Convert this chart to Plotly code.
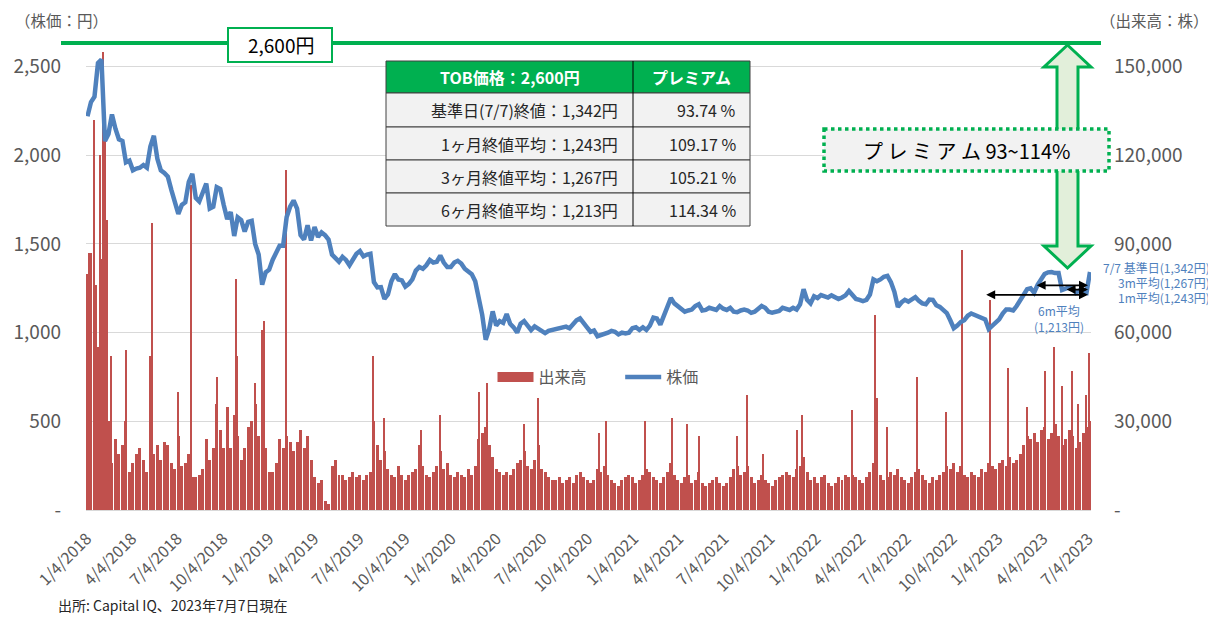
import pandas as pd
import plotly.graph_objects as go

# ---------------- data ----------------
# weekly closes (Fridays) from 2018-01-05 to 2023-07-07
price = [
    2220, 2300, 2330, 2520, 2540, 2080, 2120, 2230, 2150, 2090, 2080, 1960, 1970, 1915, 1925, 1930,
    1945, 1930, 2050, 2110, 1980, 1915, 1900, 1880, 1805, 1730, 1670, 1720, 1735, 1850, 1895, 1760,
    1740, 1790, 1840, 1700, 1710, 1820, 1810, 1720, 1640, 1680, 1545, 1650, 1635, 1570, 1625, 1630,
    1500, 1440, 1270, 1340, 1355, 1410, 1450, 1490, 1490, 1650, 1710, 1745, 1700, 1550, 1525, 1605,
    1520, 1595, 1540, 1565, 1550, 1525, 1440, 1420, 1400,
    1427, 1410, 1380, 1415, 1445, 1460, 1430, 1440, 1445, 1285, 1255, 1257, 1190, 1215, 1290, 1330,
    1300, 1295, 1260, 1275, 1300, 1350, 1370, 1360, 1380, 1410, 1395, 1400, 1435, 1395, 1370, 1370,
    1395, 1405, 1390, 1360, 1345, 1330, 1290, 1190, 1100, 960, 1020, 1120, 1040, 1065, 1055, 1105,
    1050, 1030, 1000, 1050, 1065, 1040, 1015, 1035, 1020, 1005, 997, 1010, 1015, 1015, 1022, 1030,
    1034, 1025, 1050, 1070, 1080, 1050, 1030, 1005, 1012,
    980, 985, 995, 1000, 1010, 1005, 990, 1000, 995, 1000, 1025, 1030, 1015, 1030, 1015, 1040,
    1085, 1080, 1045, 1100, 1145, 1195, 1165, 1150, 1130, 1118, 1125, 1130, 1150, 1160, 1125, 1128,
    1140, 1135, 1128, 1150, 1135, 1128, 1140, 1118, 1115, 1125, 1130, 1125, 1112, 1118, 1138, 1150,
    1140, 1118, 1112, 1115, 1122, 1140, 1135, 1128, 1140, 1130, 1160, 1245, 1185, 1165, 1205, 1195,
    1212, 1205, 1198, 1210, 1200, 1190, 1198, 1210, 1235,
    1215, 1190, 1185, 1178, 1185, 1215, 1300, 1290, 1300, 1315, 1320, 1285, 1230, 1145, 1170, 1185,
    1175, 1190, 1200, 1180, 1165, 1160, 1186, 1185, 1155, 1145, 1125, 1110, 1070, 1025, 1040, 1060,
    1070, 1095, 1108, 1100, 1092, 1080, 1075, 1020, 1040, 1055, 1075, 1108, 1130, 1130, 1125, 1150,
    1180, 1215, 1245, 1250, 1225, 1270, 1305, 1330, 1340, 1342, 1336, 1336, 1240, 1245, 1255, 1250,
    1225, 1238, 1230, 1225, 1342,
]

# typical daily volume level in each week (thousand shares)
volume_k = [
    45, 40, 50, 55, 70, 60, 30, 16, 24, 19, 22, 30, 13, 16, 19, 21, 17, 13, 30, 19, 22, 17, 23, 22,
    16, 14, 25, 15, 16, 19, 11, 11, 12, 14, 24, 17, 21, 36, 27, 21, 35, 21, 32, 25, 17, 21, 28, 30,
    36, 25, 34, 21, 13, 13, 16, 24, 21, 25, 23, 20, 23, 27, 21, 25, 17, 11, 9, 10, 3, 2, 15, 17, 12,
    12, 10, 11, 13, 11, 12, 10, 12, 13, 30, 22, 17, 20, 14, 12, 11, 15, 12, 10, 12, 13, 14, 22, 15,
    12, 11, 13, 15, 20, 14, 16, 12, 11, 13, 12, 11, 14, 12, 15, 24, 26, 28, 22, 18, 14, 13, 12, 13,
    12, 14, 16, 17, 20, 15, 14, 17, 22, 14, 13, 11, 10, 10, 11, 9, 10, 11, 9, 12, 13, 11, 10, 9, 10,
    14, 13, 15, 12, 10, 9, 8, 10, 11, 12, 11, 9, 10, 12, 14, 13, 11, 10, 9, 11, 13, 16, 12, 10,
    9, 11, 12, 9, 10, 13, 9, 8, 9, 10, 11, 9, 8, 9, 11, 14, 15, 12, 13, 15, 11, 9, 10, 12,
    10, 9, 8, 10, 11, 12, 13, 12, 11, 14, 15, 18, 13, 10, 11, 9, 11, 12, 9, 8, 9, 11, 10, 12, 11,
    12, 11, 10, 9, 11, 13, 16, 15, 12, 10, 11, 13, 12, 14, 11, 10, 9, 11, 13, 14, 12, 10, 9, 11,
    10, 12, 13, 15, 14, 16, 13, 15, 12, 11, 13, 12, 11, 14, 13, 16, 15, 14, 16, 17, 15, 18, 16, 17,
    19, 22, 25, 24, 26, 23, 27, 28, 24, 26, 29, 25, 22, 24, 27, 25, 21, 23, 26, 28, 30,
]

# single-day volume spikes (thousand shares)
spike_dates = [
    "2018-01-04", "2018-01-09", "2018-01-12", "2018-01-18", "2018-01-23", "2018-01-30", "2018-02-02",
    "2018-02-06", "2018-02-09", "2018-02-14", "2018-02-22", "2018-03-23", "2018-05-11", "2018-05-15",
    "2018-07-06", "2018-08-01", "2018-09-21", "2018-10-30", "2018-11-01", "2018-12-07", "2018-12-20",
    "2018-12-25", "2019-02-06", "2019-08-01", "2019-08-22", "2019-11-04", "2019-12-13", "2020-02-28",
    "2020-03-16", "2020-05-28", "2020-06-25", "2020-10-26", "2020-11-09", "2021-01-27", "2021-03-22",
    "2021-04-20", "2021-05-14", "2021-07-29", "2021-08-19", "2021-09-20", "2021-11-26", "2021-12-07",
    "2022-03-18", "2022-05-02", "2022-05-06", "2022-05-27", "2022-07-26", "2022-09-22", "2022-10-24",
    "2022-12-19", "2023-01-23", "2023-03-03", "2023-04-07", "2023-04-25", "2023-05-11", "2023-05-31",
    "2023-06-13", "2023-06-28", "2023-07-05",
]
spike_k = [
    80, 87, 87, 132, 76, 120, 85, 155, 126, 98, 52, 54, 52, 97, 40, 110, 45, 78, 52, 43, 61, 64, 115,
    52, 31, 27, 32, 40, 43, 29, 38, 26, 30, 30, 31, 29, 25, 25, 39, 19, 27, 32, 34, 66, 38, 28, 45,
    33, 88, 71, 48, 35, 47, 55, 42, 47, 36, 39, 53,
]

x_tick_vals = [
    "2018-01-04", "2018-04-04", "2018-07-04", "2018-10-04", "2019-01-04", "2019-04-04", "2019-07-04",
    "2019-10-04", "2020-01-04", "2020-04-04", "2020-07-04", "2020-10-04", "2021-01-04", "2021-04-04",
    "2021-07-04", "2021-10-04", "2022-01-04", "2022-04-04", "2022-07-04", "2022-10-04", "2023-01-04",
    "2023-04-04", "2023-07-04",
]
x_tick_text = [
    "1/4/2018", "4/4/2018", "7/4/2018", "10/4/2018", "1/4/2019", "4/4/2019", "7/4/2019", "10/4/2019",
    "1/4/2020", "4/4/2020", "7/4/2020", "10/4/2020", "1/4/2021", "4/4/2021", "7/4/2021", "10/4/2021",
    "1/4/2022", "4/4/2022", "7/4/2022", "10/4/2022", "1/4/2023", "4/4/2023", "7/4/2023",
]
price_ticks = [0, 500, 1000, 1500, 2000, 2500]
price_tick_text = ["-", "500", "1,000", "1,500", "2,000", "2,500"]
vol_ticks = [0, 30000, 60000, 90000, 120000, 150000]
vol_tick_text = ["-", "30,000", "60,000", "90,000", "120,000", "150,000"]

tob_price = 2600
table_rows = [
    ("基準日(7/7)終値：1,342円", "93.74 %"),
    ("1ヶ月終値平均：1,243円", "109.17 %"),
    ("3ヶ月終値平均：1,267円", "105.21 %"),
    ("6ヶ月終値平均：1,213円", "114.34 %"),
]
avg_6m, avg_3m, avg_1m, base_close = 1213, 1267, 1243, 1342

week_dates = pd.date_range("2018-01-05", periods=len(price), freq="7D")

# ---------------- layout helpers (screen pixels) ----------------
W, H = 1216, 618
OFF = 8                      # page body margin of the html page
L, R, T, B = 86, 1091, 40, 510   # plot area on screen
FONT = "Noto Sans CJK JP"
GRAY = "#595959"
GREEN = "#00B050"
RED = "#C0504D"
BLUE = "#4F81BD"


def px(x):
    return (x - L) / (R - L)


def py(y):
    return (B - y) / (B - T)


def label(x, y, text, size, color, xanchor="center", bold=False):
    return dict(xref="paper", yref="paper", x=px(x), y=py(y), xanchor=xanchor, yanchor="middle",
                text=f"<b>{text}</b>" if bold else text, showarrow=False, borderpad=0,
                font=dict(size=size, color=color, family=FONT))


fig = go.Figure()
fig.add_trace(go.Bar(
    x=week_dates, y=[v * 1000 for v in volume_k], name="出来高", marker_color=RED,
    marker_line_width=0, width=6 * 86400000, yaxis="y", showlegend=False,
))
fig.add_trace(go.Bar(
    x=pd.to_datetime(spike_dates), y=[v * 1000 for v in spike_k], name="出来高", marker_color=RED,
    marker_line_width=0, width=2 * 86400000, yaxis="y", showlegend=False,
))
# legend key for the volume bars (wide red swatch as in the original)
fig.add_trace(go.Scatter(
    x=[None], y=[None], name="出来高" + "&nbsp;" * 8, mode="lines",
    line=dict(color=RED, width=10), yaxis="y",
))
fig.add_trace(go.Scatter(
    x=week_dates, y=price, name="株価", mode="lines",
    line=dict(color=BLUE, width=4.5), yaxis="y2",
))

shapes = []
annotations = []

# TOB price line and label box
shapes.append(dict(type="line", xref="paper", yref="paper", x0=px(61), x1=px(1101),
                   y0=py(43), y1=py(43), line=dict(color=GREEN, width=4)))
shapes.append(dict(type="rect", xref="paper", yref="paper", x0=px(228), x1=px(332),
                   y0=py(28), y1=py(62), fillcolor="white", line=dict(color=GREEN, width=2)))
annotations.append(label(281, 45, "2,600円", 19, "black"))

# table
tx0, tx1, tdiv = 386, 750, 633
row_edges = [61, 93, 127, 160, 193, 226]
shapes.append(dict(type="rect", xref="paper", yref="paper", x0=px(tx0), x1=px(tx1),
                   y0=py(row_edges[0]), y1=py(row_edges[1]), fillcolor=GREEN,
                   line=dict(color="#404040", width=1)))
for k in range(1, 5):
    shapes.append(dict(type="rect", xref="paper", yref="paper", x0=px(tx0), x1=px(tx1),
                       y0=py(row_edges[k]), y1=py(row_edges[k + 1]), fillcolor="#F2F2F2",
                       line=dict(color="#404040", width=1)))
shapes.append(dict(type="line", xref="paper", yref="paper", x0=px(tdiv), x1=px(tdiv),
                   y0=py(row_edges[0]), y1=py(row_edges[-1]), line=dict(color="black", width=1)))
annotations.append(label((tx0 + tdiv) / 2, 77, "TOB価格：2,600円", 16, "white", bold=True))
annotations.append(label((tdiv + tx1) / 2, 77, "プレミアム", 16, "white", bold=True))
for k, (txt, prem) in enumerate(table_rows):
    yc = (row_edges[k + 1] + row_edges[k + 2]) / 2
    annotations.append(label(619, yc, txt, 16, "#262626", xanchor="right"))
    annotations.append(label(737, yc, prem, 16, "#262626", xanchor="right"))

# green double arrow
pts = [(1067.5, 45), (1091, 67), (1078, 67), (1078, 246), (1091, 246), (1067.5, 268),
       (1044, 246), (1057, 246), (1057, 67), (1044, 67)]
path = "M " + " L ".join(f"{px(a):.5f},{py(b):.5f}" for a, b in pts) + " Z"
shapes.append(dict(type="path", xref="paper", yref="paper", path=path, fillcolor="#E2EFDA",
                   line=dict(color=GREEN, width=3)))

# premium box
shapes.append(dict(type="rect", xref="paper", yref="paper", x0=px(824), x1=px(1109),
                   y0=py(129), y1=py(171), fillcolor="#F2F2F2",
                   line=dict(color=GREEN, width=3.5, dash="dot")))
annotations.append(label(966, 151, "プ レ ミ ア ム 93~114%", 20, "black"))

# average arrows
for start, val in (("2022-12-08", avg_6m), ("2023-03-19", avg_3m), ("2023-05-18", avg_1m)):
    annotations.append(dict(x="2023-07-03", y=val, ax=start, ay=val, xref="x", yref="y2",
                            axref="x", ayref="y2", text="", showarrow=True, arrowhead=2,
                            startarrowhead=2, arrowside="end+start", arrowsize=1,
                            startarrowsize=1, arrowwidth=1.8, arrowcolor="black"))

# blue labels
for yy, txt in ((267, "7/7 基準日(1,342円)"), (282, "3m平均(1,267円)"), (297, "1m平均(1,243円)")):
    annotations.append(label(1211, yy, txt, 12, BLUE, xanchor="right"))
annotations.append(label(1059, 310, "6m平均", 12, BLUE))
annotations.append(label(1059, 326, "(1,213円)", 12, BLUE))

# axis titles & source
annotations.append(label(14, 20, "（株価：円）", 15.5, GRAY, xanchor="left"))
annotations.append(label(1210, 20, "（出来高：株）", 15.5, GRAY, xanchor="right"))
annotations.append(label(57, 605, "出所: Capital IQ、2023年7月7日現在", 14, "#262626", xanchor="left"))

fig.update_layout(
    width=W, height=H,
    margin=dict(l=L - OFF, r=W - (R - OFF), t=T - OFF, b=H - (B - OFF), autoexpand=False),
    paper_bgcolor="white", plot_bgcolor="white",
    font=dict(family=FONT, color=GRAY),
    barmode="overlay", bargap=0,
    showlegend=True,
    legend=dict(orientation="h", x=px(598), y=py(377), xanchor="center", yanchor="middle",
                font=dict(size=16, color=GRAY), bgcolor="rgba(0,0,0,0)", itemwidth=36,
                tracegroupgap=0),
    xaxis=dict(type="date", range=["2018-01-02", "2023-07-09"], tickvals=x_tick_vals,
               ticktext=x_tick_text, tickangle=-45, tickfont=dict(size=16, color=GRAY),
               showgrid=False, showline=True, linecolor="#D9D9D9", ticks="",
               ticklabelstandoff=12),
    yaxis=dict(side="right", range=[0, 159000], tickvals=vol_ticks, ticktext=vol_tick_text,
               tickfont=dict(size=19, color=GRAY), showgrid=True, gridcolor="#D9D9D9",
               zeroline=False, ticks="", ticklabelstandoff=22),
    yaxis2=dict(side="left", overlaying="y", range=[0, 2650], tickvals=price_ticks,
                ticktext=price_tick_text, tickfont=dict(size=19, color=GRAY), showgrid=False,
                zeroline=False, ticks="", ticklabelstandoff=24),
    shapes=shapes,
    annotations=annotations,
)

fig.write_html("out.html")
